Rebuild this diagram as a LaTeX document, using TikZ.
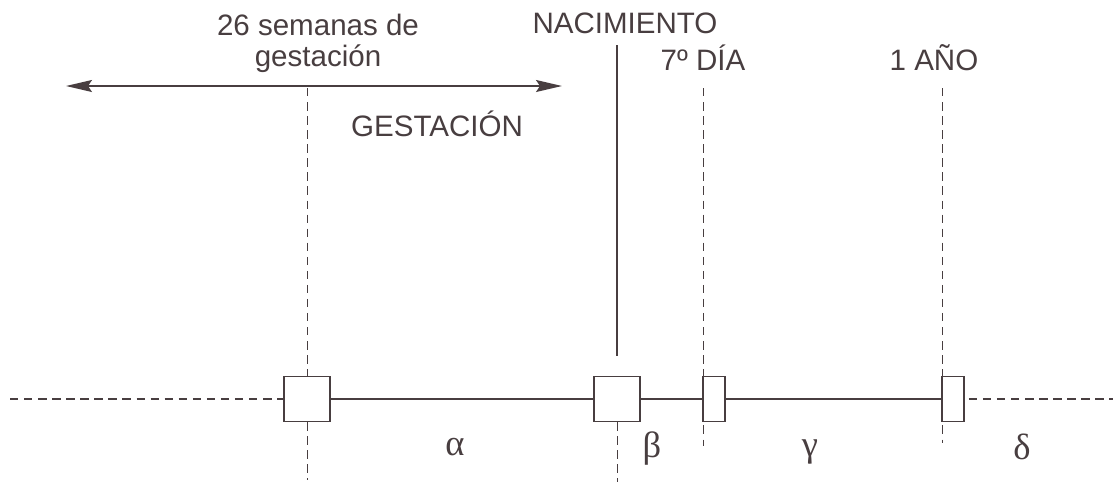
\documentclass[tikz,border=0pt]{standalone}
\usepackage{fontspec}
\setmainfont{Liberation Sans}
\newfontfamily\grk{Liberation Serif}
\usetikzlibrary{arrows.meta,positioning}
\definecolor{ink}{RGB}{72,62,64}

\begin{document}
\begin{tikzpicture}[x=0.025cm,y=-0.025cm,line width=0.9pt,draw=ink,
  every node/.style={text=ink},
  txt/.style={font=\fontsize{21}{22}\selectfont,inner sep=0pt,align=center},
  gr/.style={font=\grk\fontsize{26}{27}\selectfont,inner sep=0pt},
  bigbox/.style={draw,fill=white,minimum width=1.15cm,minimum height=1.13cm,inner sep=0pt},
  thinbox/.style={draw,fill=white,minimum width=0.55cm,minimum height=1.13cm,inner sep=0pt},
  dsh/.style={dash pattern=on 6pt off 4pt,line width=0.7pt}]
\useasboundingbox (0,0) rectangle (1113,482);
\node[bigbox](b_g) at (307,399){};
\node[bigbox](b_n) at (617,399){};
\node[thinbox](b_d) at (714,399){};
\node[thinbox](b_a) at (953,399){};
\coordinate (l_0) at (10,399);
\coordinate (r_0) at (1113,399);
% arrow of gestation
\coordinate (a_l) at (66,86);
\coordinate (a_r) at (562,86);
\draw[line width=1.1pt,{Stealth[length=6.5mm,width=3mm,inset=1mm]}-{Stealth[length=6.5mm,width=3mm,inset=1mm]}] (a_l) -- (a_r);
% axis
\draw[dsh,line width=0.9pt] (l_0) -- (b_g.west);
\draw (b_g.east) -- (b_n.west);
\draw (b_n.east) -- (b_d.west);
\draw (b_d.east) -- (b_a.west);
\draw[dsh,line width=0.9pt] ([xshift=3pt]b_a.east) -- (r_0);
% verticals
\coordinate (v_g) at (307,88);
\coordinate (v_gb) at (307,480);
\coordinate (v_n) at (617,45);
\coordinate (v_nb) at (617,482);
\coordinate (v_d) at (703,88);
\coordinate (v_db) at (703,446);
\coordinate (v_a) at (942,88);
\coordinate (v_ab) at (942,443);
\draw[dsh] (v_g) -- (b_g.north);
\draw[dsh] (b_g.south) -- (v_gb);
\draw (v_n) -- ([yshift=14pt]b_n.north);
\draw[dsh] (b_n.south) -- (v_nb);
\draw[dsh] (v_d) -- (v_db);
\draw[dsh] (v_a) -- (v_ab);
% labels
\node[txt](t_s) at (318,43){26 semanas de\\gestación};
\node[txt](t_g) at (437,124){GESTACIÓN};
\node[txt](t_n) at (625,23){NACIMIENTO};
\node[txt](t_d) at (703,58){7º DÍA};
\node[txt](t_a) at (934,58){1 AÑO};
\node[gr](g_a) at (455,447){α};
\node[gr](g_b) at (652,449){β};
\node[gr](g_c) at (810,452){γ};
\node[gr](g_d) at (1022,447){δ};
\end{tikzpicture}
\end{document}
